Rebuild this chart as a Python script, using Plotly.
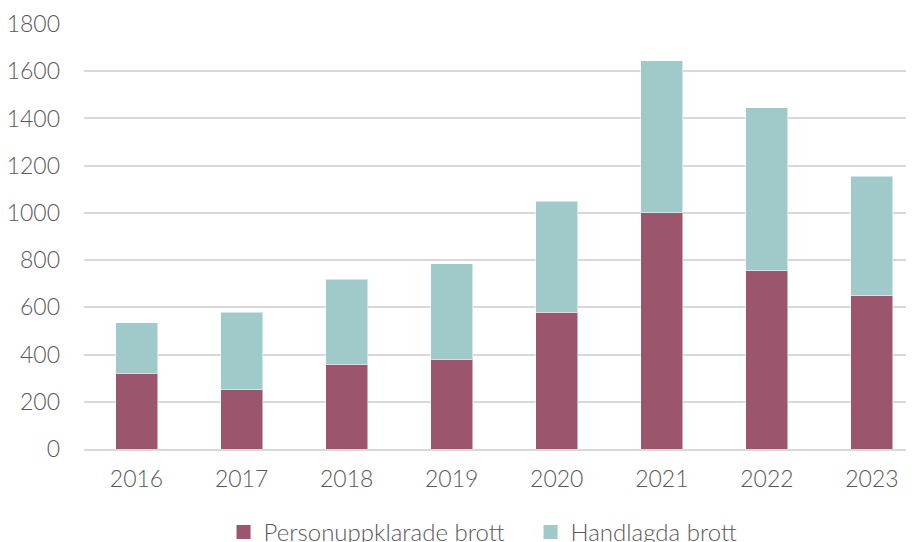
import plotly.graph_objects as go

years = ["2016", "2017", "2018", "2019", "2020", "2021", "2022", "2023"]
personuppklarade = [320, 250, 360, 380, 580, 1000, 755, 650]
handlagda = [215, 330, 360, 405, 470, 645, 690, 505]
series_names = ["Personuppklarade brott", "Handlagda brott"]

red = "#9B566E"
teal = "#A0CACA"
font_family = "Lato"
txt = dict(size=23, color="#595959", weight=300, family=font_family)
legtxt = dict(size=24, color="#595959", weight=300, family=font_family)

fig = go.Figure()
for vals, name, col in [(personuppklarade, series_names[0], red), (handlagda, series_names[1], teal)]:
    fig.add_trace(go.Bar(x=years, y=vals, name=name, showlegend=False, legendgroup=name,
                         marker=dict(color=col, line=dict(color="rgba(255,255,255,0.5)", width=1)),
                         width=0.4))
for name, col in [(series_names[0], red), (series_names[1], teal)]:
    fig.add_trace(go.Scatter(x=[None], y=[None], mode="markers", name=name, legendgroup=name,
                             marker=dict(symbol="square", size=14, color=col)))

fig.update_layout(
    barmode="stack",
    width=906, height=534,
    margin=dict(l=76, r=0, t=16, b=93, autoexpand=False),
    plot_bgcolor="white", paper_bgcolor="white",
    font=txt,
    xaxis=dict(range=[-0.5, 7.4], showgrid=False, showline=True, linecolor="#d9d9d9",
               linewidth=2, ticks="", tickfont=txt, automargin=False, ticklabelstandoff=8),
    yaxis=dict(range=[0, 1800], dtick=200, showgrid=True, gridcolor="#d9d9d9", gridwidth=2,
               zeroline=False, showline=False, ticks="", ticklabelstandoff=23,
               tickfont=txt, automargin=False),
    legend=dict(orientation="h", x=0.538, xanchor="center", y=-0.143, yanchor="top",
                font=legtxt, traceorder="normal", itemwidth=30,
                entrywidth=262, entrywidthmode="pixels"),
    bargap=0.6,
)

fig.write_html("out.html")
